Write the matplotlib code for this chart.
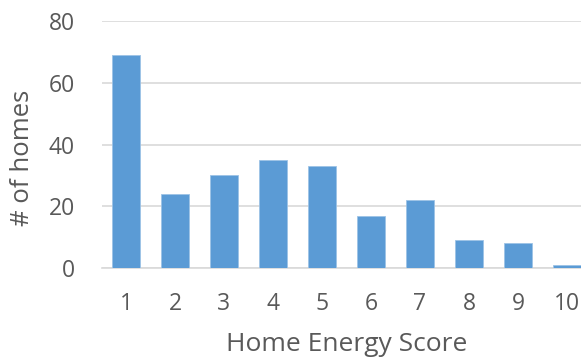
import numpy as np
import matplotlib.pyplot as plt

# scores and counts
scores = ["1", "2", "3", "4", "5", "6", "7", "8", "9", "10"]
homes = [69, 24, 30, 35, 33, 17, 22, 9, 8, 1]
y_ticks = [0, 20, 40, 60, 80]

plt.rcParams["font.family"] = ["Open Sans", "DejaVu Sans"]
text_col = "#595959"

fig = plt.figure(figsize=(5.81, 3.58), dpi=100)
# plot area runs a bit past the right edge, like the cropped original
ax = fig.add_axes([101.5 / 581, 90 / 358, 490 / 581, 247 / 358])

x = np.arange(len(scores))
ax.bar(x, homes, width=0.57, color="#5B9BD5", edgecolor="#9DC3E6",
       linewidth=0.6, zorder=3)

ax.set_xlim(-0.5, len(scores) - 0.5)
ax.set_ylim(0, 80)
ax.set_xticks(x)
ax.set_xticklabels(scores)
ax.set_yticks(y_ticks)

ax.grid(axis="y", color="#D9D9D9", linewidth=1.2, zorder=0)
for s in ["top", "right", "left"]:
    ax.spines[s].set_visible(False)
ax.spines["bottom"].set_color("#D9D9D9")
ax.spines["bottom"].set_linewidth(1.2)

ax.tick_params(axis="x", length=0, pad=17, labelsize=16.5, colors=text_col)
ax.tick_params(axis="y", length=0, pad=19, labelsize=16.5, colors=text_col)

ax.set_xlabel("Home Energy Score", fontsize=19, color=text_col)
ax.set_ylabel("# of homes", fontsize=18.5, color=text_col)
# keep the x title just inside the bottom edge
ax.xaxis.set_label_coords(0.5, -0.258)
ax.yaxis.set_label_coords(-0.161, 0.445)
ax.yaxis.label.set_va("center")

fig.savefig("out.png", dpi=100)
